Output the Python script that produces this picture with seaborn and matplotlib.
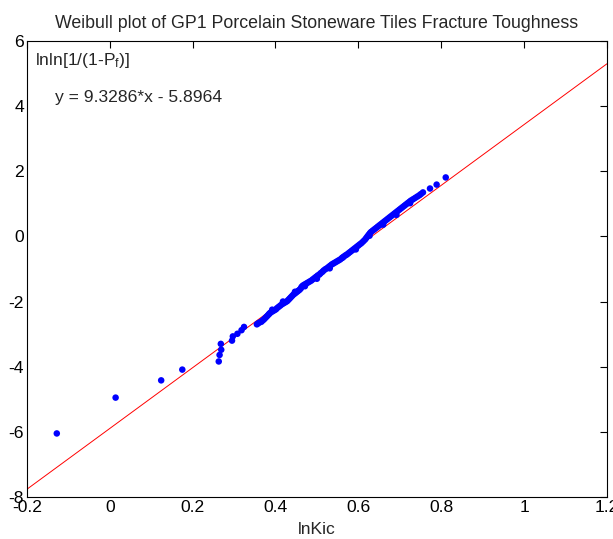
import matplotlib
matplotlib.use("Agg")
import matplotlib.pyplot as plt
import numpy as np
import pandas as pd
import seaborn as sns

# fitted Weibull line (from the chart annotation)
slope = 9.3286
intercept = -5.8964

# lnKic values
ln_kic = [
    -0.128, 0.014, 0.124, 0.175, 0.263, 0.265, 0.269, 0.268, 0.295, 0.297,
    0.308, 0.318, 0.324,
    0.355, 0.358, 0.362, 0.366, 0.369, 0.372, 0.375, 0.378, 0.381, 0.384,
    0.386, 0.389, 0.393, 0.397, 0.401, 0.404, 0.408, 0.412, 0.416, 0.420,
    0.424, 0.428, 0.431, 0.434, 0.437, 0.440, 0.443, 0.446, 0.449, 0.452,
    0.455, 0.458, 0.461, 0.463, 0.466, 0.470, 0.474, 0.478, 0.482, 0.486,
    0.490, 0.494, 0.498, 0.502, 0.506, 0.509, 0.513, 0.516, 0.520, 0.524,
    0.528, 0.532, 0.536, 0.540, 0.544, 0.548, 0.552, 0.556, 0.560, 0.564,
    0.568, 0.572, 0.576, 0.580, 0.584, 0.588, 0.592, 0.596, 0.600, 0.604,
    0.608, 0.612, 0.616, 0.619, 0.622, 0.625, 0.628, 0.631, 0.635, 0.639,
    0.643, 0.647, 0.651, 0.655, 0.659, 0.663, 0.667, 0.671, 0.675, 0.679,
    0.683, 0.687, 0.691, 0.695, 0.699, 0.703, 0.707, 0.711, 0.715, 0.719,
    0.723, 0.727, 0.732, 0.737, 0.742, 0.747, 0.751, 0.756, 0.773, 0.789,
    0.811,
    # a few scattered points that thicken the band
    0.392, 0.418, 0.447, 0.471, 0.500, 0.531, 0.562, 0.594, 0.627, 0.660,
    0.692, 0.725,
]
# lnln[1/(1-Pf)] values
lnln_pf = [
    -6.05, -4.95, -4.42, -4.09, -3.84, -3.64, -3.48, -3.30, -3.20, -3.07,
    -2.99, -2.88, -2.78,
    -2.70, -2.67, -2.64, -2.62, -2.58, -2.55, -2.51, -2.47, -2.43, -2.39,
    -2.36, -2.33, -2.30, -2.27, -2.24, -2.20, -2.16, -2.12, -2.08, -2.05,
    -2.02, -1.99, -1.95, -1.91, -1.87, -1.83, -1.79, -1.76, -1.73, -1.70,
    -1.67, -1.64, -1.60, -1.55, -1.51, -1.48, -1.45, -1.42, -1.39, -1.36,
    -1.32, -1.28, -1.24, -1.20, -1.17, -1.13, -1.09, -1.05, -1.01, -0.98,
    -0.94, -0.90, -0.86, -0.83, -0.80, -0.77, -0.74, -0.71, -0.67, -0.63,
    -0.59, -0.56, -0.52, -0.48, -0.44, -0.40, -0.36, -0.32, -0.28, -0.24,
    -0.20, -0.15, -0.10, -0.05, 0.00, 0.05, 0.10, 0.14, 0.18, 0.22,
    0.26, 0.30, 0.34, 0.38, 0.42, 0.46, 0.50, 0.54, 0.58, 0.62,
    0.66, 0.70, 0.74, 0.78, 0.82, 0.86, 0.90, 0.94, 0.98, 1.02,
    1.06, 1.10, 1.14, 1.18, 1.22, 1.26, 1.30, 1.35, 1.47, 1.59,
    1.81,
    -2.25, -2.00, -1.70, -1.53, -1.30, -0.98, -0.65, -0.40, 0.02, 0.36,
    0.66, 1.02,
]

x_range = [-0.2, 1.2]
y_range = [-8, 6]

sns.set_theme(style="white")
plt.rcParams["font.family"] = ["Liberation Sans", "DejaVu Sans"]
plt.rcParams["mathtext.default"] = "regular"
plt.rcParams["axes.unicode_minus"] = False

points = pd.DataFrame({"lnKic": ln_kic, "lnln": lnln_pf})
fit_x = np.array(x_range)
fit = pd.DataFrame({"lnKic": fit_x, "lnln": slope * fit_x + intercept})

fig = plt.figure(figsize=(6.13, 5.39), dpi=100)
ax = fig.add_axes([0.044, 0.078, 0.946, 0.846])

sns.lineplot(data=fit, x="lnKic", y="lnln", color="red", linewidth=0.7, ax=ax)
sns.scatterplot(data=points, x="lnKic", y="lnln", color="blue", s=22,
                edgecolor="none", ax=ax, zorder=3)

ax.set_xlim(*x_range)
ax.set_ylim(*y_range)
ax.set_xticks(np.arange(-0.2, 1.21, 0.2))
ax.set_xticklabels(["-0.2", "0", "0.2", "0.4", "0.6", "0.8", "1", "1.2"])
ax.set_yticks(range(-8, 7, 2))
ax.tick_params(direction="in", top=True, right=True, length=5, width=0.8,
               labelsize=12.6, colors="black", pad=2)
for spine in ax.spines.values():
    spine.set_color("black")
    spine.set_linewidth(0.8)

ax.set_xlabel("lnKic", fontsize=12.6, labelpad=5)
ax.set_ylabel("")
ax.set_title("Weibull plot of GP1 Porcelain Stoneware Tiles Fracture Toughness",
             fontsize=12.8, pad=9)
ax.text(0.014, 0.958, "lnln[1/(1-P$_f$)]", transform=ax.transAxes,
        fontsize=12.6, ha="left", va="center")
ax.text(0.049, 0.877, "y = 9.3286*x - 5.8964", transform=ax.transAxes,
        fontsize=12.6, ha="left", va="center")

fig.savefig("out.png", dpi=100)
